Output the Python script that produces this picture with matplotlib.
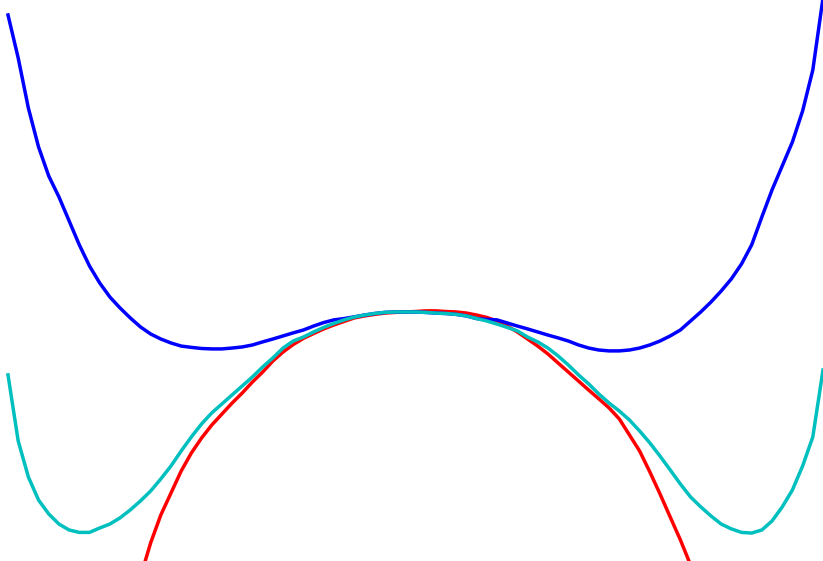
import numpy as np
import matplotlib
matplotlib.use("Agg")
import matplotlib.pyplot as plt

# sample positions shared by the blue and cyan curves (step 0.125)
x = np.linspace(-5, 5, 81)

blue_y = [14.50, 12.55, 10.27, 8.50, 7.18, 6.23, 5.14, 4.05, 3.09, 2.32,
          1.68, 1.18, 0.73, 0.32, 0.00, -0.23, -0.41, -0.55, -0.61, -0.66,
          -0.68, -0.68, -0.64, -0.59, -0.50, -0.36, -0.23, -0.09, 0.05, 0.18,
          0.36, 0.52, 0.64, 0.70, 0.78, 0.86, 0.93, 0.98, 1.00, 1.00,
          1.00, 0.98, 0.95, 0.93, 0.89, 0.82, 0.70, 0.66, 0.64, 0.50,
          0.36, 0.23, 0.09, -0.05, -0.18, -0.32, -0.50, -0.64, -0.73, -0.77,
          -0.77, -0.73, -0.64, -0.50, -0.32, -0.09, 0.18, 0.59, 1.00, 1.45,
          1.95, 2.50, 3.18, 4.05, 5.32, 6.55, 7.64, 8.73, 10.14, 12.00,
          15.27]

cyan_y = [-1.86, -4.86, -6.50, -7.55, -8.18, -8.64, -8.91, -9.02, -9.02, -8.82,
          -8.64, -8.36, -8.00, -7.59, -7.14, -6.59, -6.00, -5.32, -4.68, -4.09,
          -3.59, -3.18, -2.77, -2.36, -1.95, -1.50, -1.09, -0.64, -0.32, -0.14,
          0.09, 0.30, 0.48, 0.64, 0.77, 0.86, 0.93, 0.98, 1.00, 1.00,
          1.00, 0.98, 0.95, 0.93, 0.89, 0.82, 0.70, 0.59, 0.45, 0.30,
          0.14, -0.14, -0.36, -0.64, -1.00, -1.41, -1.86, -2.27, -2.73, -3.14,
          -3.50, -3.91, -4.41, -4.95, -5.55, -6.18, -6.82, -7.41, -7.86, -8.27,
          -8.64, -8.86, -9.02, -9.05, -8.91, -8.50, -7.86, -7.09, -6.00, -4.68,
          -1.64]

# red curve only covers the middle part
x_red = np.linspace(-3.5, 3.5, 57)
red_y = [-12.36, -11.05, -9.50, -8.23, -7.23, -6.23, -5.41, -4.73, -4.14, -3.64,
         -3.14, -2.68, -2.18, -1.73, -1.23, -0.82, -0.48, -0.20, 0.02, 0.23,
         0.41, 0.57, 0.73, 0.82, 0.89, 0.95, 0.98, 1.00, 1.02, 1.05,
         1.05, 1.02, 1.00, 0.95, 0.86, 0.75, 0.59, 0.36, 0.09, -0.23,
         -0.55, -0.91, -1.32, -1.73, -2.14, -2.55, -2.95, -3.36, -3.86, -4.59,
         -5.32, -6.27, -7.27, -8.32, -9.36, -10.50, -11.64]

fig = plt.figure(figsize=(8.23, 5.61), dpi=100)
ax = fig.add_axes([0, 0, 1, 1])

ax.plot(x_red, red_y, color='r', lw=2.5)
ax.plot(x, blue_y, color='b', lw=2.5)
ax.plot(x, cyan_y, color='c', lw=2.5)

ax.set_xlim(-5.098, 5.0)
ax.set_ylim(-10.32, 15.18)
ax.axis('off')

fig.savefig("out.png", dpi=100)
